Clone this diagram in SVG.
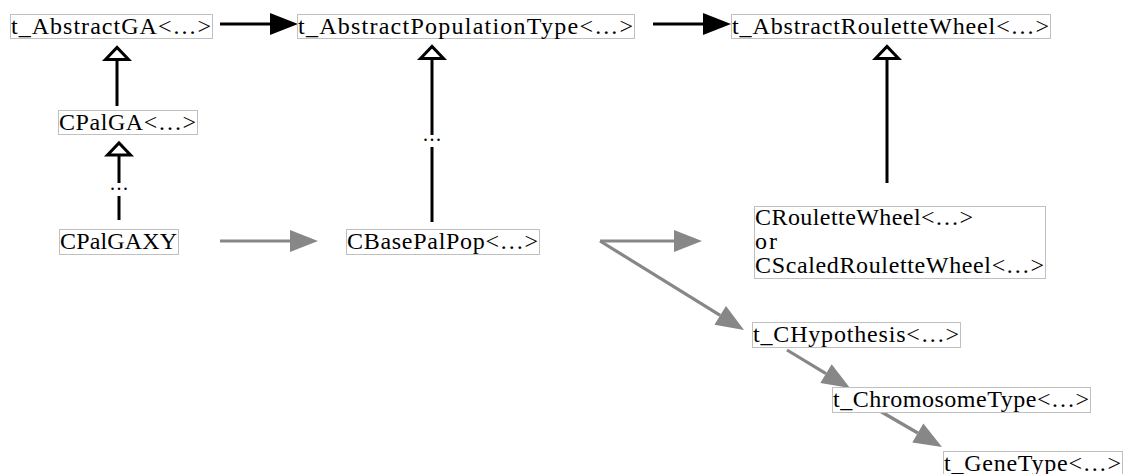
<svg xmlns="http://www.w3.org/2000/svg" width="1124" height="474" viewBox="0 0 1124 474">
<style>
.box{fill:#fff;stroke:#c0c0c0;stroke-width:1}
.lbl{font-family:"Liberation Serif","Times New Roman",serif;font-size:24px;font-weight:normal;fill:#000}
.blk{stroke:#000;stroke-width:3;fill:none}
.gry{stroke:#878787;stroke-width:3.2;fill:none}
.dots{font-family:"Liberation Serif",serif;font-size:20px;fill:#000}
</style>
<defs>
<marker id="ahB" markerUnits="userSpaceOnUse" markerWidth="30" markerHeight="24" refX="0" refY="11" orient="auto" overflow="visible">
<path d="M0,0 L28,11 L0,22 z" fill="#000"/>
</marker>
<marker id="ahG" markerUnits="userSpaceOnUse" markerWidth="30" markerHeight="24" refX="0" refY="11" orient="auto" overflow="visible">
<path d="M0,0 L28,11 L0,22 z" fill="#878787"/>
</marker>
<marker id="inh" markerUnits="userSpaceOnUse" markerWidth="20" markerHeight="30" refX="0" refY="0" orient="auto" overflow="visible">
<path d="M0,-11.5 L12,0 L0,11.5 z" fill="#fff" stroke="#000" stroke-width="3" stroke-linejoin="miter"/>
</marker>
</defs>

<g id="connectors">
<line class="blk" x1="220" y1="24" x2="270" y2="24" marker-end="url(#ahB)"/>
<line class="blk" x1="653" y1="24" x2="703" y2="24" marker-end="url(#ahB)"/>
<line class="blk" x1="117" y1="106" x2="117" y2="59.5" marker-end="url(#inh)"/>
<line class="blk" x1="119" y1="220" x2="119" y2="196"/>
<text class="dots" x="110" y="190" textLength="18" lengthAdjust="spacing">...</text>
<line class="blk" x1="119" y1="183" x2="119" y2="155" marker-end="url(#inh)"/>
<line class="blk" x1="432" y1="222" x2="432" y2="147"/>
<text class="dots" x="423" y="141" textLength="18" lengthAdjust="spacing">...</text>
<line class="blk" x1="432" y1="135" x2="432" y2="58.5" marker-end="url(#inh)"/>
<line class="blk" x1="887" y1="183" x2="887" y2="58.5" marker-end="url(#inh)"/>
<line class="gry" x1="220" y1="241" x2="290" y2="241" marker-end="url(#ahG)"/>
<line class="gry" x1="600" y1="241" x2="674" y2="241" marker-end="url(#ahG)"/>
<line class="gry" x1="600" y1="241" x2="720.2" y2="315.3" marker-end="url(#ahG)"/>
<line class="gry" x1="787" y1="350" x2="826" y2="373.6" marker-end="url(#ahG)"/>
<line class="gry" x1="873" y1="407" x2="917.8" y2="433" marker-end="url(#ahG)"/>
</g>

<g id="n_AbstractGA">
<rect class="box" x="10.5" y="14.5" width="202" height="24"/>
<text class="lbl" x="11" y="33.5" textLength="200" lengthAdjust="spacing">t_AbstractGA&lt;…&gt;</text>
</g>
<g id="n_AbstractPopulationType">
<rect class="box" x="297.5" y="14.5" width="337" height="24"/>
<text class="lbl" x="298" y="33.5" textLength="335" lengthAdjust="spacing">t_AbstractPopulationType&lt;…&gt;</text>
</g>
<g id="n_AbstractRouletteWheel">
<rect class="box" x="731.5" y="14.5" width="319" height="24"/>
<text class="lbl" x="732" y="33.5" textLength="317" lengthAdjust="spacing">t_AbstractRouletteWheel&lt;…&gt;</text>
</g>
<g id="n_CPalGA">
<rect class="box" x="58.5" y="110.5" width="139" height="24"/>
<text class="lbl" x="59" y="129.5" textLength="137" lengthAdjust="spacing">CPalGA&lt;…&gt;</text>
</g>
<g id="n_CPalGAXY">
<rect class="box" x="59.5" y="229.5" width="119" height="25"/>
<text class="lbl" x="60" y="248.5" textLength="117" lengthAdjust="spacing">CPalGAXY</text>
</g>
<g id="n_CBasePalPop">
<rect class="box" x="346.5" y="229.5" width="193" height="25"/>
<text class="lbl" x="347" y="248.5" textLength="191" lengthAdjust="spacing">CBasePalPop&lt;…&gt;</text>
</g>
<g id="n_CRouletteWheel">
<rect class="box" x="754.5" y="206.5" width="291" height="72"/>
<text class="lbl" x="755" y="224.5" textLength="218" lengthAdjust="spacing">CRouletteWheel&lt;…&gt;</text>
<text class="lbl" x="755" y="248.5" textLength="22" lengthAdjust="spacing">or</text>
<text class="lbl" x="755" y="272.5" textLength="289" lengthAdjust="spacing">CScaledRouletteWheel&lt;…&gt;</text>
</g>
<g id="n_CHypothesis">
<rect class="box" x="752.5" y="322.5" width="208" height="25"/>
<text class="lbl" x="753" y="341.5" textLength="206" lengthAdjust="spacing">t_CHypothesis&lt;…&gt;</text>
</g>
<g id="n_ChromosomeType">
<rect class="box" x="832.5" y="387.5" width="258" height="25"/>
<text class="lbl" x="833" y="406.5" textLength="256" lengthAdjust="spacing">t_ChromosomeType&lt;…&gt;</text>
</g>
<g id="n_GeneType">
<rect class="box" x="943.5" y="451.5" width="179" height="25"/>
<text class="lbl" x="944" y="470.5" textLength="177" lengthAdjust="spacing">t_GeneType&lt;…&gt;</text>
</g>
</svg>
